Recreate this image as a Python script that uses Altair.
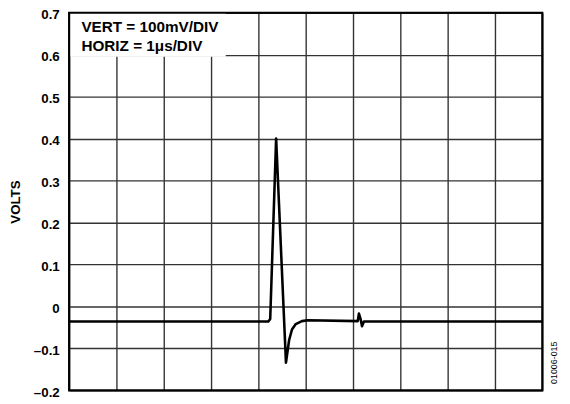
import altair as alt
import pandas as pd

# ---- data ----
time_us = [0.0, 4.21, 4.25, 4.375, 4.583, 4.65, 4.71, 4.79, 4.92, 5.04,
           6.10, 6.125, 6.16, 6.19, 6.23, 10.0]
volts = [-0.036, -0.036, -0.030, 0.400, -0.134, -0.080, -0.055, -0.042,
         -0.035, -0.033, -0.035, -0.017, -0.030, -0.047, -0.036, -0.036]
y_ticks = [-0.2, -0.1, 0.0, 0.1, 0.2, 0.3, 0.4, 0.5, 0.6, 0.7]
x_ticks = [0, 1, 2, 3, 4, 5, 6, 7, 8, 9, 10]
legend_lines = ["VERT = 100mV/DIV", "HORIZ = 1\u03bcs/DIV"]
legend_y = [0.655, 0.609]
legend_box = {"x": [0.0], "x2": [3.31], "y": [0.7], "y2": [0.595]}
frame_box = {"x": [0.0], "x2": [10.0], "y": [-0.2], "y2": [0.7]}
figure_id = "01006-015"

trace = pd.DataFrame({"t": time_us, "v": volts})
box = pd.DataFrame(legend_box)
frame = pd.DataFrame(frame_box)
legend = pd.DataFrame({"t": [0.26, 0.26], "v": legend_y, "label": legend_lines})

FONT = "Liberation Sans"

xscale = alt.Scale(domain=[0, 10], nice=False, zero=False)
yscale = alt.Scale(domain=[-0.2, 0.7], nice=False, zero=False)

xaxis = alt.Axis(values=x_ticks, grid=True, labels=False, ticks=False,
                 domain=False, title=None, gridColor="#333333", gridWidth=1.4,
                 gridOpacity=1)
yaxis = alt.Axis(values=y_ticks, grid=True, ticks=False, domain=False,
                 gridColor="#333333", gridWidth=1.4, gridOpacity=1,
                 labelExpr="datum.value == 0 ? '0' : (datum.value < 0 ? '\u2013' : '') + format(abs(datum.value), '.1f')",
                 labelFont=FONT, labelFontSize=13.5, labelFontWeight="bold",
                 labelColor="black", labelPadding=10, labelOffset=2,
                 title="VOLTS", titleFont=FONT, titleFontSize=13.5,
                 titleFontWeight="bold", titleColor="black",
                 titleX=-54, titleY=191.5, titleAngle=-90,
                 titleAlign="center", titleBaseline="middle")

line = alt.Chart(trace).mark_line(color="black", strokeWidth=2.6,
                                  strokeJoin="round").encode(
    x=alt.X("t:Q", scale=xscale, axis=xaxis),
    y=alt.Y("v:Q", scale=yscale, axis=yaxis),
)

rect = alt.Chart(box).mark_rect(fill="white").encode(
    x=alt.X("x:Q", scale=xscale),
    x2="x2:Q",
    y=alt.Y("y:Q", scale=yscale),
    y2="y2:Q",
)

border = alt.Chart(frame).mark_rect(fill=None, fillOpacity=0, stroke="black",
                                    strokeWidth=2.2).encode(
    x=alt.X("x:Q", scale=xscale),
    x2="x2:Q",
    y=alt.Y("y:Q", scale=yscale),
    y2="y2:Q",
)

texts = alt.Chart(legend).mark_text(align="left", baseline="alphabetic",
                                    font=FONT, fontSize=15.5, fontWeight="bold",
                                    color="black").encode(
    x=alt.X("t:Q", scale=xscale),
    y=alt.Y("v:Q", scale=yscale),
    text="label:N",
)

fig_id = alt.Chart(pd.DataFrame({"label": [figure_id]})).mark_text(
    angle=270, align="center", baseline="middle", font=FONT, fontSize=9,
    color="black").encode(
    x=alt.value(491.5), y=alt.value(355), text="label:N")

chart = alt.layer(line, rect, border, texts, fig_id).properties(
    width=480, height=383,
    autosize=alt.AutoSizeParams(type="none"),
    padding={"left": 62, "top": 2, "right": 20, "bottom": 11},
).configure_view(stroke=None)

chart.save("out.html", embed_options={"renderer": "svg", "actions": False})
